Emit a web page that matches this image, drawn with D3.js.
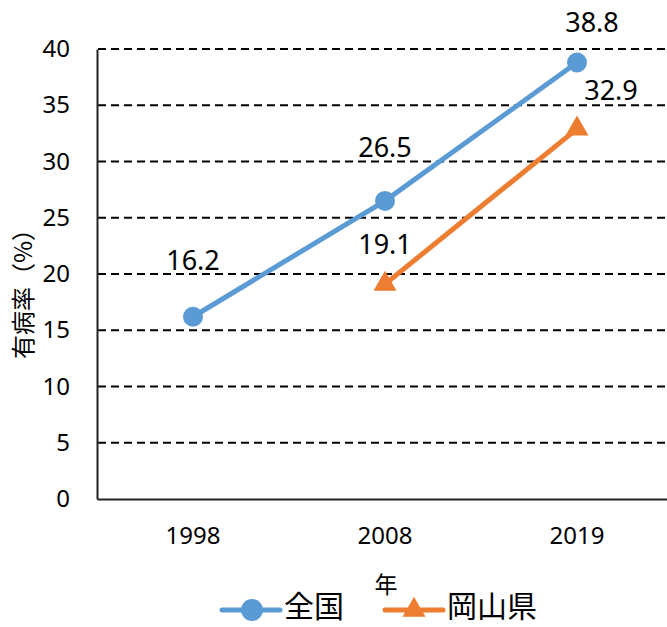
<!DOCTYPE html>
<html>
<head>
<meta charset="utf-8">
<script src="https://cdn.jsdelivr.net/npm/d3@7"></script>
<style>
  body { margin: 0; background: #fff; }
  svg { display: block; font-family: "Noto Sans", "Noto Sans CJK JP", sans-serif; }
</style>
</head>
<body>
<svg id="chart" width="667" height="627"></svg>
<script>
// データ
const years = ["1998", "2008", "2019"];
const zenkoku = [16.2, 26.5, 38.8];
const okayama = [null, 19.1, 32.9];
const yTicks = [0, 5, 10, 15, 20, 25, 30, 35, 40];
const seriesNames = ["全国", "岡山県"];

const blue = "#5B9BD5";
const orange = "#ED7D31";

const svg = d3.select("#chart");

const x = d3.scaleBand().domain(years).range([97, 673]);
const y = d3.scaleLinear().domain([0, 40]).range([499, 49]);
const cx = d => x(d) + x.bandwidth() / 2;

// グリッド線（破線）
svg.append("g")
  .selectAll("line")
  .data(yTicks.filter(t => t > 0))
  .join("line")
  .attr("x1", 98).attr("x2", 667)
  .attr("y1", d => y(d)).attr("y2", d => y(d))
  .attr("stroke", "#000")
  .attr("stroke-width", 2)
  .attr("stroke-dasharray", "8,5");

// 軸
const yAxis = svg.append("g")
  .attr("transform", "translate(97,0)")
  .call(d3.axisLeft(y).tickValues(yTicks).tickSize(0).tickPadding(27));
yAxis.select(".domain").attr("stroke", "#222").attr("stroke-width", 2);
yAxis.selectAll("text").attr("font-size", 24).attr("fill", "#000")
  .attr("font-family", "Noto Sans");

const xAxis = svg.append("g")
  .attr("transform", "translate(0,499)")
  .call(d3.axisBottom(x).tickSize(0).tickPadding(28));
xAxis.select(".domain").attr("stroke", "#222").attr("stroke-width", 2);
xAxis.selectAll("text").attr("font-size", 24).attr("fill", "#000")
  .attr("font-family", "Noto Sans");

// 軸タイトル
svg.append("text")
  .attr("transform", "translate(32,359) rotate(-90)")
  .attr("text-anchor", "start")
  .attr("font-size", 24)
  .attr("font-family", "Noto Sans CJK JP")
  .text("有病率（%）");

svg.append("text")
  .attr("x", 386).attr("y", 593)
  .attr("text-anchor", "middle")
  .attr("font-size", 23)
  .attr("font-family", "Noto Sans CJK JP")
  .text("年");

// 折れ線
const line = d3.line()
  .defined(d => d.v != null)
  .x(d => cx(d.year))
  .y(d => y(d.v));

const zData = years.map((yr, i) => ({ year: yr, v: zenkoku[i] }));
const oData = years.map((yr, i) => ({ year: yr, v: okayama[i] }));

svg.append("path").datum(zData)
  .attr("d", line).attr("fill", "none")
  .attr("stroke", blue).attr("stroke-width", 5);

svg.append("path").datum(oData)
  .attr("d", line).attr("fill", "none")
  .attr("stroke", orange).attr("stroke-width", 5);

svg.append("g").selectAll("circle")
  .data(zData)
  .join("circle")
  .attr("cx", d => cx(d.year)).attr("cy", d => y(d.v))
  .attr("r", 10).attr("fill", blue);

const tri = d3.symbol().type(d3.symbolTriangle).size(230);
svg.append("g").selectAll("path")
  .data(oData.filter(d => d.v != null))
  .join("path")
  .attr("d", tri)
  .attr("transform", d => `translate(${cx(d.year)},${y(d.v)})`)
  .attr("fill", orange);

// データラベル
const zLabelOffset = [[0, -47], [0, -44], [15, -31]];
const oLabelOffset = [null, [0, -30], [34, -29]];

svg.append("g").selectAll("text")
  .data(zData)
  .join("text")
  .attr("x", (d, i) => cx(d.year) + zLabelOffset[i][0])
  .attr("y", (d, i) => y(d.v) + zLabelOffset[i][1])
  .attr("text-anchor", "middle")
  .attr("font-size", 27)
  .text(d => d.v.toFixed(1));

svg.append("g").selectAll("text")
  .data(oData.map((d, i) => ({ ...d, i })).filter(d => d.v != null))
  .join("text")
  .attr("x", d => cx(d.year) + oLabelOffset[d.i][0])
  .attr("y", d => y(d.v) + oLabelOffset[d.i][1])
  .attr("text-anchor", "middle")
  .attr("font-size", 27)
  .text(d => d.v.toFixed(1));

// 凡例
const legend = [
  { name: seriesNames[0], color: blue, x: 222, marker: "circle" },
  { name: seriesNames[1], color: orange, x: 385, marker: "triangle" }
];
const lg = svg.append("g").selectAll("g")
  .data(legend)
  .join("g")
  .attr("transform", d => `translate(${d.x},610)`);

lg.append("line")
  .attr("x1", 0).attr("x2", 58)
  .attr("stroke", d => d.color).attr("stroke-width", 5)
  .attr("stroke-linecap", "round");

lg.filter(d => d.marker === "circle").append("circle")
  .attr("cx", 30).attr("r", 11).attr("fill", d => d.color);

lg.filter(d => d.marker === "triangle").append("path")
  .attr("d", tri)
  .attr("transform", "translate(29,0)")
  .attr("fill", d => d.color);

lg.append("text")
  .attr("x", 62).attr("y", 7)
  .attr("font-size", 30)
  .attr("font-family", "Noto Sans CJK JP")
  .text(d => d.name);
</script>
</body>
</html>
